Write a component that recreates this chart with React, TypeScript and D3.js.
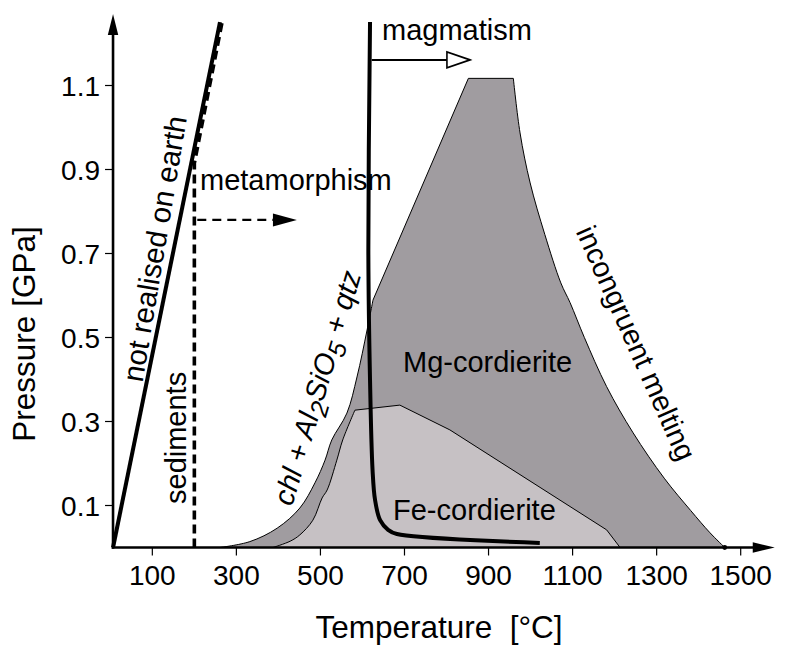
import React from "react";
import * as d3 from "d3";

// ---- data (temperature °C, pressure GPa) ----
const xTicks = [100, 300, 500, 700, 900, 1100, 1300, 1500];
const yTicks = [0.1, 0.3, 0.5, 0.7, 0.9, 1.1];

const mgCordLeft: [number, number][] = [
  [261, 0], [332, 0.014], [397, 0.046], [451, 0.094], [487, 0.154], [511, 0.208],
  [527, 0.256], [563, 0.32], [587, 0.406], [611, 0.518], [625, 0.589],
];
const mgCordTop: [number, number][] = [[625, 0.589], [852, 1.117], [959, 1.117]];
const mgCordRight: [number, number][] = [
  [959, 1.117], [975, 0.987], [999, 0.868], [1034, 0.745], [1072, 0.63], [1094, 0.583],
  [1128, 0.5], [1181, 0.383], [1244, 0.273], [1318, 0.165], [1381, 0.088], [1427, 0.035], [1462, 0],
];

const feCordLeft: [number, number][] = [
  [387, 0], [428, 0.015], [451, 0.03], [482, 0.065], [504, 0.118], [516, 0.137],
  [539, 0.208], [553, 0.256], [582, 0.327],
];
const feCordTop: [number, number][] = [[582, 0.327], [689, 0.339], [808, 0.28], [1181, 0.042], [1213, 0]];

const magmaCurve: [number, number][] = [
  [618, 1.251], [614, 0.708], [618, 0.399], [624, 0.185], [630, 0.113], [642, 0.065],
  [661, 0.042], [682, 0.032], [1022, 0.011],
];

const notRealised: [number, number][] = [[6.5, 0], [261, 1.251]];
const sedimentLine: [number, number][] = [[200, 0], [200, 0.915], [267, 1.256]];
const metamorphArrow: [number, number][] = [[207, 0.78], [387, 0.78], [444, 0.78]];
const magmaArrow: [number, number][] = [[622, 1.161], [801, 1.161], [856, 1.161]];
const meltPoint: [number, number] = [1462, 0];

const axisOriginT = 6.5;
const axisEndT = 1581;
const axisEndP = 1.27;

// ---- layout ----
const W = 785;
const H = 649;
const x = d3.scaleLinear().domain([0, 1500]).range([110.3, 740.7]);
const y = d3.scaleLinear().domain([0, 1]).range([547.5, 127.5]);

const FONT = "'Liberation Sans', Arial, Helvetica, sans-serif";

function joinPath(parts: { pts: [number, number][]; curve: d3.CurveFactory }[]) {
  let d = "";
  parts.forEach((p, i) => {
    const s = d3
      .line<[number, number]>()
      .x((v) => x(v[0]))
      .y((v) => y(v[1]))
      .curve(p.curve)(p.pts) as string;
    d += i === 0 ? s : "L" + s.slice(1);
  });
  return d + "Z";
}

const cat = d3.curveCatmullRom.alpha(0.5);

export default function App() {
  const mgPath = joinPath([
    { pts: mgCordLeft, curve: cat },
    { pts: mgCordTop, curve: d3.curveLinear },
    { pts: mgCordRight, curve: cat },
  ]);
  const fePath = joinPath([
    { pts: feCordLeft, curve: cat },
    { pts: feCordTop, curve: d3.curveLinear },
  ]);
  const magmaPath = d3
    .line<[number, number]>()
    .x((v) => x(v[0]))
    .y((v) => y(v[1]))
    .curve(cat)(magmaCurve) as string;
  const straight = d3
    .line<[number, number]>()
    .x((v) => x(v[0]))
    .y((v) => y(v[1]));

  const x0 = x(axisOriginT);
  const y0 = y(0);
  const xEnd = x(axisEndT);
  const yEnd = y(axisEndP);

  const mA = metamorphArrow.map((p) => [x(p[0]), y(p[1])]);
  const gA = magmaArrow.map((p) => [x(p[0]), y(p[1])]);

  return (
    <svg
      width={W}
      height={H}
      viewBox={`0 0 ${W} ${H}`}
      style={{ position: "absolute", left: 0, top: 0, background: "#fff" }}
      fontFamily={FONT}
    >
      {/* fields */}
      <path d={mgPath} fill="#a09ca0" stroke="#000" strokeWidth={1} />
      <path d={fePath} fill="#c6c1c4" stroke="#000" strokeWidth={1} />

      {/* axes */}
      <line x1={x0} y1={y0 + 1.2} x2={x0} y2={yEnd + 18} stroke="#000" strokeWidth={2.6} />
      <polygon points={`${x0},${yEnd} ${x0 - 5.2},${yEnd + 21} ${x0 + 5.2},${yEnd + 21}`} fill="#000" />
      <line x1={x0 - 1.3} y1={y0} x2={xEnd - 20} y2={y0} stroke="#000" strokeWidth={2.6} />
      <polygon points={`${xEnd},${y0} ${xEnd - 22},${y0 - 5.2} ${xEnd - 22},${y0 + 5.2}`} fill="#000" />
      <circle cx={x(meltPoint[0])} cy={y(meltPoint[1])} r={2.4} fill="#000" />

      {xTicks.map((t) => (
        <g key={"xt" + t}>
          <line x1={x(t)} x2={x(t)} y1={y0} y2={y0 + 8} stroke="#000" strokeWidth={1.2} />
          <text x={x(t)} y={585} fontSize={28} textAnchor="middle" fill="#000">
            {t}
          </text>
        </g>
      ))}
      {yTicks.map((t) => (
        <g key={"yt" + t}>
          <line x1={x0 - 8} x2={x0} y1={y(t)} y2={y(t)} stroke="#000" strokeWidth={1.2} />
          <text x={100} y={y(t)} dy="0.36em" fontSize={28} textAnchor="end" fill="#000">
            {t.toFixed(1)}
          </text>
        </g>
      ))}

      <text x={439} y={638} fontSize={31.5} textAnchor="middle" fill="#000" style={{ whiteSpace: "pre" }}>
        {"Temperature  [°C]"}
      </text>
      <text
        transform={`translate(35,334) rotate(-90)`}
        fontSize={31.5}
        textAnchor="middle"
        fill="#000"
      >
        Pressure [GPa]
      </text>

      {/* not realised on earth */}
      <path d={straight(notRealised) as string} stroke="#000" strokeWidth={4} fill="none" />
      {/* sediments / metamorphism boundary */}
      <path
        d={straight(sedimentLine) as string}
        stroke="#000"
        strokeWidth={3.6}
        fill="none"
        strokeDasharray="9,5"
      />
      {/* metamorphism arrow */}
      <line
        x1={mA[0][0]}
        y1={mA[0][1]}
        x2={mA[1][0]}
        y2={mA[1][1]}
        stroke="#000"
        strokeWidth={2.4}
        strokeDasharray="9,6"
      />
      <polygon
        points={`${mA[2][0]},${mA[2][1]} ${mA[1][0]},${mA[1][1] - 6.5} ${mA[1][0]},${mA[1][1] + 6.5}`}
        fill="#000"
      />

      {/* magmatism */}
      <path d={magmaPath} stroke="#000" strokeWidth={4} fill="none" strokeLinecap="butt" />
      <line x1={gA[0][0]} y1={gA[0][1]} x2={gA[1][0]} y2={gA[1][1]} stroke="#000" strokeWidth={2} />
      <polygon
        points={`${gA[2][0]},${gA[2][1]} ${gA[1][0]},${gA[1][1] - 8} ${gA[1][0]},${gA[1][1] + 8}`}
        fill="#fff"
        stroke="#000"
        strokeWidth={1.6}
        strokeLinejoin="miter"
      />

      {/* labels */}
      <g fontSize={29} fill="#000">
        <text x={382} y={40}>magmatism</text>
        <text x={200} y={190}>metamorphism</text>
        <text x={403} y={372}>Mg-cordierite</text>
        <text x={393} y={520}>Fe-cordierite</text>
        <text transform={`translate(142.5,383) rotate(-80.5)`} fontSize={29.5}>not realised on earth</text>
        <text transform={`translate(185.5,504) rotate(-90)`}>sediments</text>
        <text transform={`translate(627,347) rotate(66)`} textAnchor="middle">
          incongruent melting
        </text>
        <text transform={`translate(292,507) rotate(-73.4)`} fontStyle="italic">
          chl + Al
          <tspan fontSize={25} dy={7}>2</tspan>
          <tspan dy={-7}>SiO</tspan>
          <tspan fontSize={25} dy={7}>5</tspan>
          <tspan dy={-7}> + qtz</tspan>
        </text>
      </g>
    </svg>
  );
}
